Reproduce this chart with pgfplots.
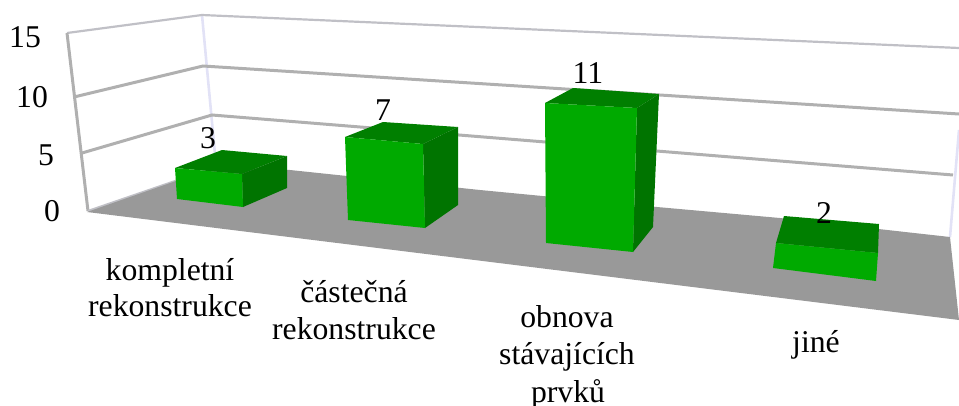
\documentclass[border=0pt]{standalone}
\usepackage{fontspec}
\setmainfont{Liberation Serif}
\usepackage{pgfplots}
\pgfplotsset{compat=1.18}
\definecolor{barfront}{HTML}{00AA00}
\definecolor{bardark}{HTML}{007F00}
\definecolor{barside}{HTML}{007400}
\definecolor{floorgrey}{HTML}{999999}
\definecolor{gridgrey}{HTML}{B0B0B0}
\definecolor{topgrey}{HTML}{C0C0C6}
\definecolor{wallblue}{HTML}{E2E2F6}
\newcommand{\lab}[3]{\node[anchor=base,inner sep=0pt] at (axis cs:#1,#2) {#3};}
\begin{document}
\begin{tikzpicture}[font=\fontsize{31.7}{37}\selectfont]
\begin{axis}[
  scale only axis,
  width=959pt, height=405pt,
  xmin=0, xmax=959, ymin=0, ymax=405,
  y dir=reverse,
  hide axis,
  clip=true,
]
\coordinate (tl) at (axis cs:0,0);
\coordinate (br) at (axis cs:959,405);
% walls
\addplot[wallblue, line width=2.6pt] coordinates {(202,15) (216,165)};
\addplot[wallblue, line width=2.6pt] coordinates {(959,130) (950,237)};
\addplot[topgrey, line width=2.2pt] coordinates {(67,33) (202,15) (959,48)};
\addplot[gridgrey, line width=3pt] coordinates {(74,97) (203,66) (959,114)};
\addplot[gridgrey, line width=3pt] coordinates {(82,153) (212,115) (953,175)};
\addplot[gridgrey, line width=3pt] coordinates {(67,33) (88,211)};
\addplot[topgrey, line width=2.2pt] coordinates {(88,211) (216,167)};

% floor
\addplot[fill=floorgrey, draw=none] coordinates {(87,212) (216,167) (290,170) (480,190) (657,207) (780,218) (950,237) (959,320)} --cycle;

% bar 1, value 3
\addplot[fill=bardark, draw=none] coordinates {(175,168) (222,150) (287,156) (242,174)} --cycle;
\addplot[fill=barside, draw=none] coordinates {(242,174) (287,156) (287,188) (243,207)} --cycle;
\addplot[fill=barfront, draw=none] coordinates {(175,168) (242,174) (243,207) (177,199)} --cycle;
% bar 2, value 7
\addplot[fill=bardark, draw=none] coordinates {(345,137) (383,122) (458,127) (423,144)} --cycle;
\addplot[fill=barside, draw=none] coordinates {(423,144) (458,127) (458,205) (425,228)} --cycle;
\addplot[fill=barfront, draw=none] coordinates {(345,137) (423,144) (425,228) (348,220)} --cycle;
% bar 3, value 11
\addplot[fill=bardark, draw=none] coordinates {(545,103) (573,88) (659,94) (637,108)} --cycle;
\addplot[fill=barside, draw=none] coordinates {(637,108) (659,94) (653,227) (633,252)} --cycle;
\addplot[fill=barfront, draw=none] coordinates {(545,103) (637,108) (633,252) (546,243)} --cycle;
% bar 4, value 2
\addplot[fill=bardark, draw=none] coordinates {(776,243) (784,216) (879,224) (878,253)} --cycle;
\addplot[fill=barfront, draw=none] coordinates {(776,243) (878,253) (876,281) (773,268)} --cycle;

% y scale
\lab{25}{47}{15}
\lab{32}{107}{10}
\lab{46}{165}{5}
\lab{52}{221}{0}
% values
\lab{208}{148}{3}
\lab{383}{120}{7}
\lab{588}{83}{11}
\lab{824}{223}{2}
% categories
\lab{170}{280}{kompletní}
\lab{170}{316}{rekonstrukce}
\lab{354}{302}{částečná}
\lab{354}{339}{rekonstrukce}
\lab{567}{327}{obnova}
\lab{567}{364}{stávajících}
\lab{568}{402}{prvků}
\lab{816}{352}{jiné}
\end{axis}
\pgfresetboundingbox
\path[use as bounding box] (tl) rectangle (br);
\end{tikzpicture}
\end{document}
